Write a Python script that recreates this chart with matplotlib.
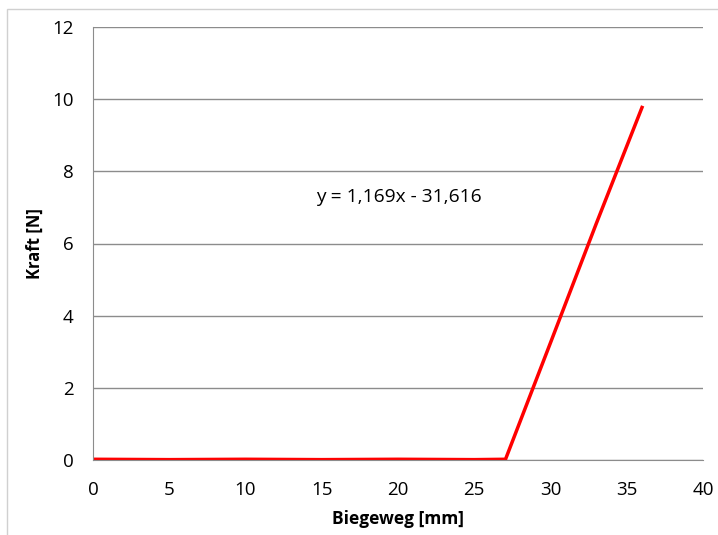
import matplotlib.pyplot as plt
from matplotlib.patches import Rectangle

biegeweg = [0.0, 5.0, 10.0, 15.0, 20.0, 25.0, 27.05, 30.0, 33.0, 36.0]
kraft = [0.02, 0.01, 0.02, 0.01, 0.02, 0.01, 0.02, 3.25, 6.55, 9.77]

x_ticks = [0, 5, 10, 15, 20, 25, 30, 35, 40]
y_ticks = [0, 2, 4, 6, 8, 10, 12]
trend_text = 'y = 1,169x - 31,616'

plt.rcParams['font.family'] = ['Open Sans', 'DejaVu Sans']

fig = plt.figure(figsize=(7.18, 5.35), dpi=100)
fig.patches.append(Rectangle((7 / 718, -0.1), 1.2, 1 - 9 / 535 + 0.1,
                             transform=fig.transFigure, fill=False,
                             edgecolor='#d0d0d0', linewidth=1))
ax = fig.add_axes([93 / 718, 75 / 535, 610 / 718, 433 / 535])

ax.plot(biegeweg, kraft, color='#ff0000', linewidth=2.5, solid_joinstyle='round')

ax.set_xlim(0, 40)
ax.set_ylim(0, 12)
ax.set_xticks(x_ticks)
ax.set_yticks(y_ticks)
ax.tick_params(axis='x', length=0, labelsize=13.5, pad=15)
ax.tick_params(axis='y', length=0, labelsize=13.5, pad=14)
ax.yaxis.grid(True, color='#8c8c8c', linewidth=1)
ax.set_axisbelow(True)
for s in ['top', 'right']:
    ax.spines[s].set_visible(False)
ax.spines['left'].set_color('#8c8c8c')
ax.spines['bottom'].set_color('#8c8c8c')

ax.set_xlabel('Biegeweg [mm]', fontsize=12.5, fontweight='bold', labelpad=8)
ax.set_ylabel('Kraft [N]', fontsize=12, fontweight='bold', labelpad=6)
ax.text(14.6, 7.3, trend_text, fontsize=13.8, va='center', ha='left')

plt.savefig('out.png', dpi=100)
